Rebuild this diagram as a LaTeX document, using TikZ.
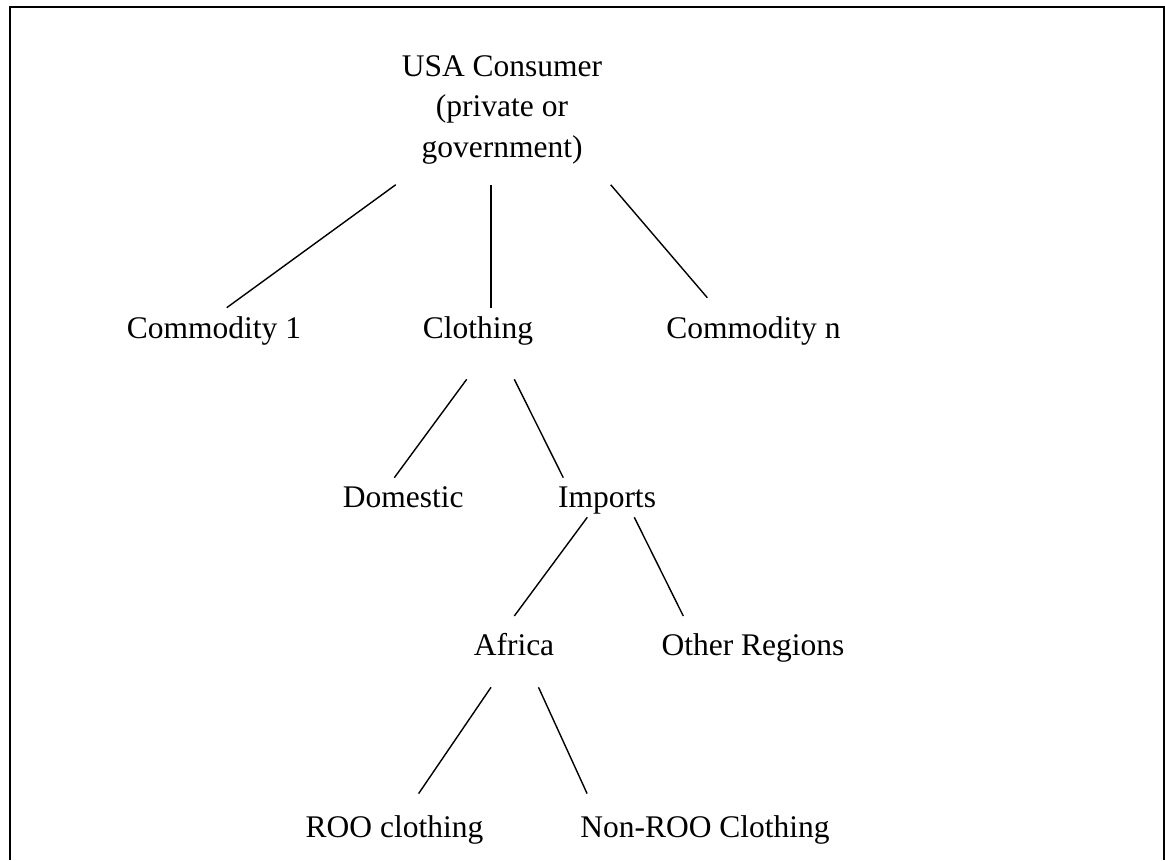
\documentclass[tikz,border=0pt]{standalone}
\usepackage{fontspec}
\setmainfont{Liberation Serif}
\begin{document}
\begin{tikzpicture}[x=1pt,y=-1pt,
  every node/.style={inner sep=0pt, font=\fontsize{31.5}{40.5}\selectfont},
  lbl/.style={anchor=base},
  branch/.style={black, line width=1.4pt}]
\useasboundingbox (0,0) rectangle (1165,860);
\draw [black, line width=2.4pt] (10,860) -- (10,7) -- (1164,7) -- (1164,860);
\node [anchor=north, align=center] (usa) at (502,55) {USA Consumer\\(private or\\government)};
\node [lbl] (com1) at (214,338) {Commodity 1};
\node [lbl] (cloth) at (478,338) {Clothing};
\node [lbl] (comn) at (753.5,338) {Commodity n};
\node [lbl] (dom) at (403.3,507.7) {Domestic};
\node [lbl] (imp) at (607,507.7) {Imports};
\node [lbl] (afr) at (514,655.7) {Africa};
\node [lbl] (oth) at (753,655.7) {Other Regions};
\node [lbl] (roo) at (394.5,837.1) {ROO clothing};
\node [lbl] (nonroo) at (705,837.1) {Non-ROO Clothing};
\draw [branch] ([xshift=-106.3pt,yshift=-20.7pt]usa.south) -- ([xshift=12.7pt,yshift=30.3pt]com1.base);
\draw [branch] ([xshift=-11pt,yshift=-20.7pt]usa.south) -- ([xshift=13pt,yshift=30.3pt]cloth.base);
\draw [branch] ([xshift=108.7pt,yshift=-20.7pt]usa.south) -- ([xshift=-46.2pt,yshift=40.3pt]comn.base);
\draw [branch] ([xshift=-11.3pt,yshift=-41.3pt]cloth.base) -- ([xshift=-9pt,yshift=30pt]dom.base);
\draw [branch] ([xshift=36.3pt,yshift=-41.3pt]cloth.base) -- ([xshift=-43.7pt,yshift=30pt]imp.base);
\draw [branch] ([xshift=-19.7pt,yshift=-9.6pt]imp.base) -- ([xshift=0.3pt,yshift=39.7pt]afr.base);
\draw [branch] ([xshift=27.3pt,yshift=-9.6pt]imp.base) -- ([xshift=-69.7pt,yshift=39.7pt]oth.base);
\draw [branch] ([xshift=-23pt,yshift=-31.6pt]afr.base) -- ([xshift=24.1pt,yshift=43.5pt]roo.base);
\draw [branch] ([xshift=24.5pt,yshift=-31.6pt]afr.base) -- ([xshift=-117.9pt,yshift=43.5pt]nonroo.base);
\end{tikzpicture}
\end{document}
